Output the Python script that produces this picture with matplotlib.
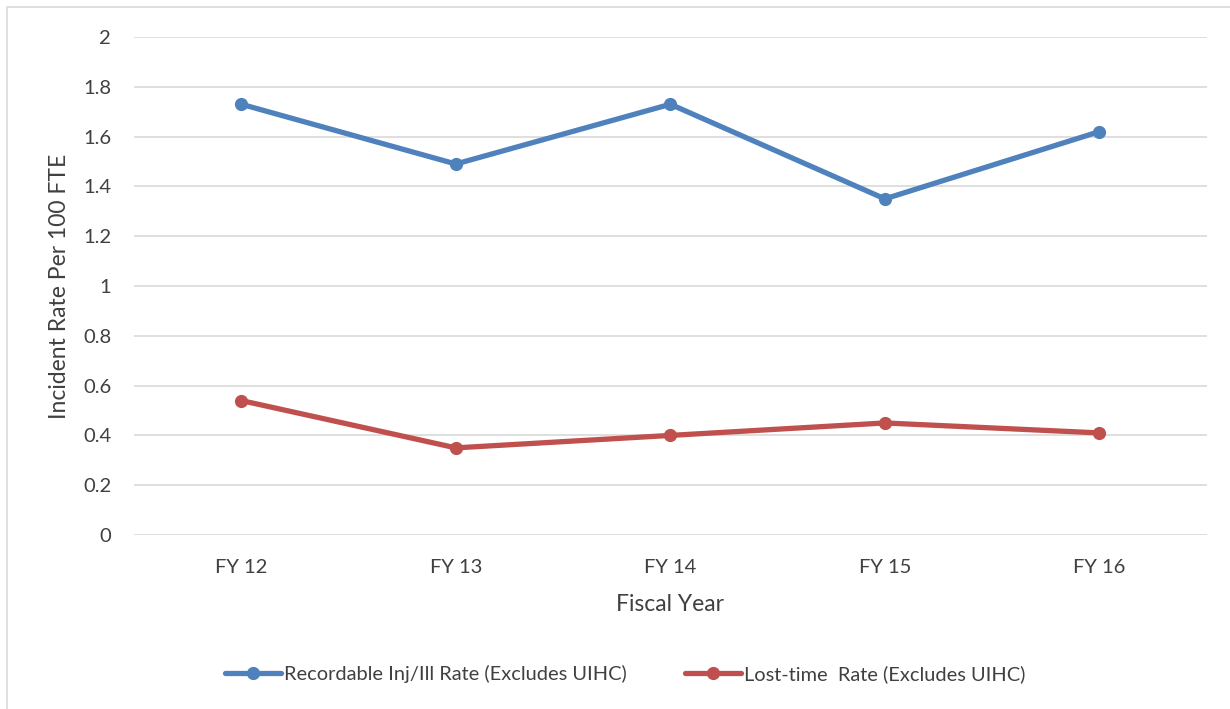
import matplotlib.pyplot as plt
from matplotlib.patches import Rectangle

years = ["FY 12", "FY 13", "FY 14", "FY 15", "FY 16"]
recordable_rate = [1.73, 1.49, 1.73, 1.35, 1.62]
lost_time_rate = [0.54, 0.35, 0.40, 0.45, 0.41]
y_ticks = [0, 0.2, 0.4, 0.6, 0.8, 1, 1.2, 1.4, 1.6, 1.8, 2]
y_tick_labels = ["0", "0.2", "0.4", "0.6", "0.8", "1", "1.2", "1.4", "1.6", "1.8", "2"]

plt.rcParams['font.family'] = ['Lato', 'DejaVu Sans']

blue = '#4F81BD'
red = '#C0504D'
text_color = '#404040'

fig = plt.figure(figsize=(12.3, 7.09), dpi=100)
ax = fig.add_axes([0.109, 0.2454, 0.872, 0.7024])

# chart border
fig.patches.append(Rectangle((7 / 1230, -0.1), 1.2, 1 - 7 / 709 + 0.1,
                             transform=fig.transFigure, fill=False,
                             edgecolor='#D9D9D9', linewidth=1.2))

x = range(len(years))
ax.plot(x, recordable_rate, color=blue, linewidth=3.8, marker='o', markersize=8.5,
        label="Recordable Inj/Ill Rate (Excludes UIHC)", solid_capstyle='round')
ax.plot(x, lost_time_rate, color=red, linewidth=3.8, marker='o', markersize=8.5,
        label="Lost-time  Rate (Excludes UIHC)", solid_capstyle='round')

ax.set_xlim(-0.5, len(years) - 0.5)
ax.set_ylim(0, 2)
ax.set_xticks(list(x))
ax.set_xticklabels(years)
ax.set_yticks(y_ticks)
ax.set_yticklabels(y_tick_labels)
ax.tick_params(axis='both', length=0, labelsize=14.5, colors=text_color)
ax.tick_params(axis='y', pad=16.5)
ax.tick_params(axis='x', pad=17)

ax.grid(axis='y', color='#D9D9D9', linewidth=1.2)
ax.set_axisbelow(True)
for s in ax.spines.values():
    s.set_visible(False)

ax.set_xlabel("Fiscal Year", fontsize=16.5, color=text_color, labelpad=13)
ax.set_ylabel("Incident Rate Per 100 FTE", fontsize=16.5, color=text_color, labelpad=9)

fig.legend(loc='center', bbox_to_anchor=(0.508, 0.049), ncol=2, frameon=False,
           fontsize=14.4, handlelength=2.8, handletextpad=0.15, columnspacing=2.9,
           labelcolor=text_color)

fig.savefig("out.png", dpi=100)
